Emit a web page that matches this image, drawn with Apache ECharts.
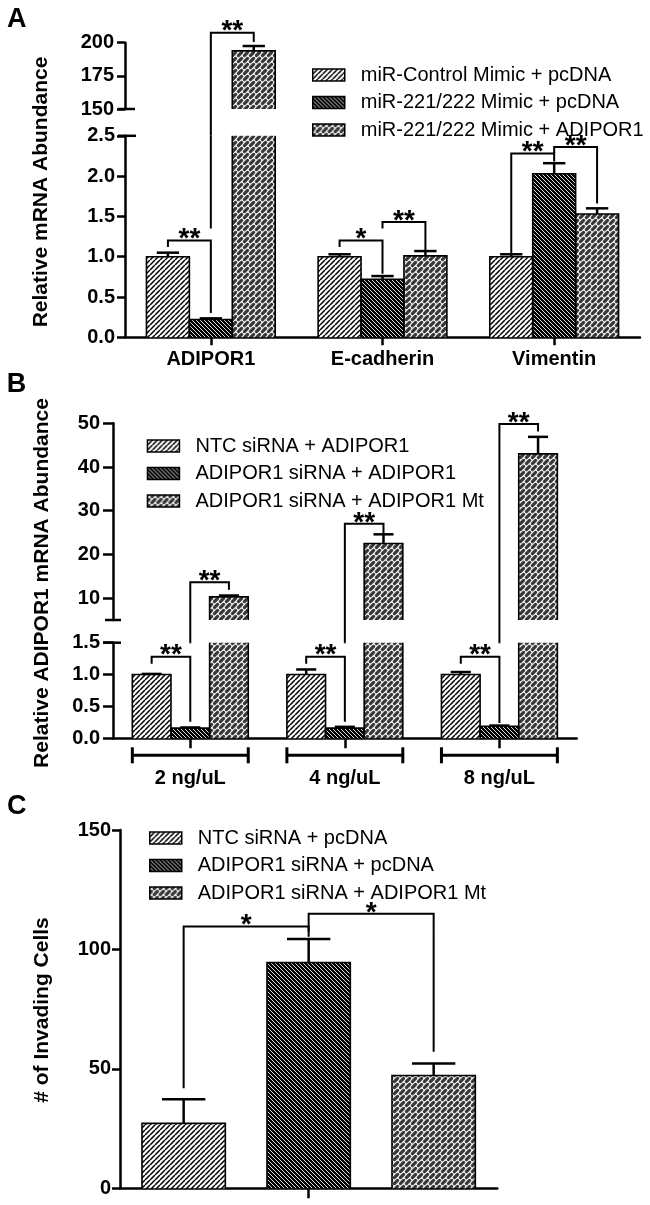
<!DOCTYPE html>
<html><head><meta charset="utf-8">
<script src="https://cdn.jsdelivr.net/npm/echarts@6/dist/echarts.min.js"></script>
<style>html,body{margin:0;padding:0;background:#fff}#c{width:650px;height:1205px}</style>
</head><body><div id="c"></div>
<script>
// ================= DATA =================
// Panel A
const catsA = ['ADIPOR1', 'E-cadherin', 'Vimentin'];
const namesA = ['miR-Control Mimic + pcDNA', 'miR-221/222 Mimic + pcDNA', 'miR-221/222 Mimic + ADIPOR1'];
const meanA0 = [1.00, 1.00, 1.00];
const meanA1 = [0.22, 0.72, 2.03];
const meanA2 = [193.8, 1.01, 1.53];
const errA0 = [0.05, 0.03, 0.03];
const errA1 = [0.015, 0.04, 0.13];
const errA2 = [3.7, 0.06, 0.07];
const ticksAtop = [150, 175, 200];
const ticksAbot = [0, 0.5, 1.0, 1.5, 2.0, 2.5];
// significance brackets: [category, barA, barB, level, legA end, legB end]
const sigA = [
  [0, 0, 1, 1.20, 1.12, 0.30],
  [0, 1, 2, 207.5, 1.35, 200.5],
  [1, 0, 1, 1.20, 1.12, 0.79],
  [1, 1, 2, 1.43, 1.35, 1.08],
  [2, 0, 1, 2.28, 1.04, 2.18],
  [2, 1, 2, 2.36, 2.28, 1.66]
];
const starsA = ['**', '**', '*', '**', '**', '**'];

// Panel B
const catsB = ['2 ng/uL', '4 ng/uL', '8 ng/uL'];
const namesB = ['NTC siRNA + ADIPOR1', 'ADIPOR1 siRNA + ADIPOR1', 'ADIPOR1 siRNA + ADIPOR1 Mt'];
const meanB0 = [1.00, 1.00, 1.00];
const meanB1 = [0.16, 0.16, 0.19];
const meanB2 = [10.3, 22.5, 43.0];
const errB0 = [0.01, 0.08, 0.04];
const errB1 = [0.01, 0.02, 0.01];
const errB2 = [0.3, 2.1, 3.9];
const ticksBtop = [10, 20, 30, 40, 50];
const ticksBbot = [0, 0.5, 1.0, 1.5];
const sigB = [
  [0, 0, 1, 1.28, 1.17, 0.26],
  [0, 1, 2, 13.65, 1.49, 11.9],
  [1, 0, 1, 1.28, 1.17, 0.26],
  [1, 1, 2, 27.0, 1.49, 24.85],
  [2, 0, 1, 1.28, 1.17, 0.24],
  [2, 1, 2, 49.84, 1.49, 48.1]
];
const starsB = ['**', '**', '**', '**', '**', '**'];

// Panel C
const catsC = [''];
const namesC = ['NTC siRNA + pcDNA', 'ADIPOR1 siRNA + pcDNA', 'ADIPOR1 siRNA + ADIPOR1 Mt'];
const meanC0 = [27.2];
const meanC1 = [94.5];
const meanC2 = [47.2];
const errC0 = [10.1];
const errC1 = [9.9];
const errC2 = [5.0];
const ticksC = [0, 50, 100, 150];
const sigC = [
  [0, 0, 1, 109.6, 41.9, 105.3],
  [0, 1, 2, 114.9, 107.5, 57.2]
];
const starsC = ['*', '*'];

// ================= STYLE / LAYOUT =================
const FONT = '"Liberation Sans", Arial, Helvetica, sans-serif';
const STAR_FONT = 'bold 28px ' + FONT;

function tile(size, draw) {
  const c = document.createElement('canvas');
  c.width = size; c.height = size;
  const g = c.getContext('2d');
  draw(g, size);
  return { image: c, repeat: 'repeat' };
}
const pat1 = tile(5, (g, s) => {
  g.fillStyle = '#fff'; g.fillRect(0, 0, s, s);
  g.strokeStyle = '#000'; g.lineWidth = 1.5; g.beginPath();
  for (let k = -1; k <= 1; k++) { g.moveTo(k * s, s); g.lineTo(k * s + s, 0); }
  g.stroke();
});
const pat2 = tile(4, (g, s) => {
  g.fillStyle = '#000'; g.fillRect(0, 0, s, s);
  g.strokeStyle = '#fff'; g.lineWidth = 0.85; g.beginPath();
  for (let k = -1; k <= 1; k++) { g.moveTo(k * s, 0); g.lineTo(k * s + s, s); }
  g.stroke();
});
const pat3 = tile(6, (g, s) => {
  g.fillStyle = '#f4f4f4'; g.fillRect(0, 0, s, s);
  g.strokeStyle = '#383838'; g.lineWidth = 3.2; g.lineCap = 'round';
  const h = 1.55;
  [[0, 0], [s, 0], [0, s], [s, s]].forEach(([cx, cy]) => {
    g.beginPath(); g.moveTo(cx - h, cy + h); g.lineTo(cx + h, cy - h); g.stroke();
  });
});
const PATS = [pat1, pat2, pat3];

const cfgA = { cg: 0.25, bg: 0 };
const cfgB = { cg: 0.25, bg: 0 };
const cfgC = { cg: 0.1165, bg: 0.5 };

const G = {
  At: { left: 125, top: 42.7, width: 515, height: 66.3 },
  Ab: { left: 125, top: 135.8, width: 515, height: 201.5 },
  Bt: { left: 113, top: 423.3, width: 463.7, height: 196.7 },
  Bb: { left: 113, top: 642.7, width: 463.7, height: 95.6 },
  C:  { left: 120, top: 830, width: 377.3, height: 358.3 }
};

function barPos(api, cat, s, cfg) {
  const band = api.size([1, 0])[0];
  const bw = band * (1 - cfg.cg) / (3 + 2 * cfg.bg);
  const group = 3 * bw + 2 * bw * cfg.bg;
  const c = api.coord([cat, 0])[0];
  return { x: c - group / 2 + s * bw * (1 + cfg.bg) + bw / 2, bw: bw };
}

function valAxis(gi, min, max, ticks, fmt, tickLen, margin, interval) {
  return {
    type: 'value', gridIndex: gi, min: min, max: max, interval: interval,
    axisLine: { show: true, lineStyle: { color: '#000', width: 2.5 } },
    axisTick: { show: true, length: tickLen, customValues: ticks, lineStyle: { color: '#000', width: 2.5 } },
    axisLabel: { show: true, customValues: ticks, formatter: fmt, color: '#000', fontSize: 20,
      fontWeight: 'bold', fontFamily: FONT, margin: margin },
    splitLine: { show: false }
  };
}
function catAxis(gi, data, show, tickLen, margin) {
  return {
    type: 'category', gridIndex: gi, data: data, show: show,
    axisLine: { show: true, onZero: false, lineStyle: { color: '#000', width: 2.5 } },
    axisTick: { show: true, alignWithLabel: true, length: tickLen, lineStyle: { color: '#000', width: 2.5 } },
    axisLabel: { show: true, interval: 0, color: '#000', fontSize: 20, fontWeight: 'bold', fontFamily: FONT, margin: margin }
  };
}

function barSeries(gi, names, means, cfg, filt) {
  return means.map((m, s) => ({
    type: 'bar', name: names[s], xAxisIndex: gi, yAxisIndex: gi,
    data: m.map(v => (filt(v) ? v : '-')),
    barGap: (cfg.bg * 100) + '%', barCategoryGap: (cfg.cg * 100) + '%',
    clip: true, silent: true,
    itemStyle: { color: PATS[s], borderWidth: 0 }
  }));
}

// bar outlines (edges cut by an axis break are left open)
function outlineSeries(gi, means, cfg, lo, hi, filt) {
  const rows = [];
  means.forEach((m, s) => m.forEach((v, c) => { if (filt(v)) rows.push([c, s, v]); }));
  return {
    type: 'custom', xAxisIndex: gi, yAxisIndex: gi, data: rows, silent: true, z: 4, clip: false,
    encode: { x: 0, y: 2 },
    renderItem: function (params, api) {
      const cat = api.value(0), v = api.value(2);
      const p = barPos(api, cat, api.value(1), cfg);
      const xl = p.x - p.bw / 2, xr = p.x + p.bw / 2;
      const yt = api.coord([cat, Math.min(v, hi)])[1];
      const yb = api.coord([cat, lo])[1];
      const st = { stroke: '#000', lineWidth: 1.6, fill: 'none' };
      if (v <= hi) {
        return { type: 'polyline', shape: { points: [[xl, yb], [xl, yt], [xr, yt], [xr, yb]] }, style: st };
      }
      return { type: 'group', children: [
        { type: 'line', shape: { x1: xl, y1: yb, x2: xl, y2: yt }, style: st },
        { type: 'line', shape: { x1: xr, y1: yb, x2: xr, y2: yt }, style: st }
      ] };
    }
  };
}

function errSeries(gi, means, errs, cfg, filt) {
  const rows = [];
  means.forEach((m, s) => m.forEach((v, c) => { if (filt(v)) rows.push([c, s, v, v + errs[s][c]]); }));
  return {
    type: 'custom', xAxisIndex: gi, yAxisIndex: gi, data: rows, silent: true, z: 5, clip: false,
    encode: { x: 0, y: 2 },
    renderItem: function (params, api) {
      const cat = api.value(0), s = api.value(1);
      const p = barPos(api, cat, s, cfg);
      const y1 = api.coord([cat, api.value(2)])[1];
      const y2 = api.coord([cat, api.value(3)])[1];
      const h = p.bw * 0.26;
      const st = { stroke: '#000', lineWidth: 2.5 };
      return { type: 'group', children: [
        { type: 'line', shape: { x1: p.x, y1: y1, x2: p.x, y2: y2 }, style: st },
        { type: 'line', shape: { x1: p.x - h, y1: y2, x2: p.x + h, y2: y2 }, style: st }
      ] };
    }
  };
}

function sigSeries(gi, sig, stars, cfg, segMin, gapBelow, filt) {
  const rows = [];
  sig.forEach((r, i) => { if (filt(r[3])) rows.push(r.concat([i])); });
  return {
    type: 'custom', xAxisIndex: gi, yAxisIndex: gi, data: rows, silent: true, z: 6, clip: false,
    encode: { x: 0, y: 3 },
    renderItem: function (params, api) {
      const cat = api.value(0);
      const xa = barPos(api, cat, api.value(1), cfg).x;
      const xb = barPos(api, cat, api.value(2), cfg).x;
      const yl = api.coord([cat, api.value(3)])[1];
      const yEnd = v => (v < segMin ? api.coord([cat, segMin])[1] + gapBelow : api.coord([cat, v])[1]);
      return { type: 'group', children: [
        { type: 'polyline', shape: { points: [[xa, yEnd(api.value(4))], [xa, yl], [xb, yl], [xb, yEnd(api.value(5))]] },
          style: { stroke: '#000', lineWidth: 2, fill: 'none' } },
        { type: 'text', x: (xa + xb) / 2, y: yl - 1,
          style: { text: stars[api.value(6)], font: STAR_FONT, fill: '#000',
            align: 'center', verticalAlign: 'middle', textAlign: 'center', textVerticalAlign: 'middle' } }
      ] };
    }
  };
}

// continuation of legs that cross an axis break, drawn in the lower segment
function contSeries(gi, sig, cfg, topMin, botMax) {
  const rows = [];
  sig.forEach(r => {
    if (r[3] > botMax) {
      if (r[4] < topMin) rows.push([r[0], r[1], r[4]]);
      if (r[5] < topMin) rows.push([r[0], r[2], r[5]]);
    }
  });
  return {
    type: 'custom', xAxisIndex: gi, yAxisIndex: gi, data: rows, silent: true, z: 6, clip: false,
    encode: { x: 0, y: 2 },
    renderItem: function (params, api) {
      const cat = api.value(0);
      const x = barPos(api, cat, api.value(1), cfg).x;
      const y1 = api.coord([cat, botMax])[1];
      const y2 = api.coord([cat, api.value(2)])[1];
      return { type: 'line', shape: { x1: x, y1: y1, x2: x, y2: y2 }, style: { stroke: '#000', lineWidth: 2 } };
    }
  };
}

function rangeSeries(gi, cats, cfg) {
  return {
    type: 'custom', xAxisIndex: gi, yAxisIndex: gi, data: cats.map((c, i) => [i, 0]), silent: true, z: 6, clip: false,
    encode: { x: 0, y: 1 },
    renderItem: function (params, api) {
      const cat = api.value(0);
      const p0 = barPos(api, cat, 0, cfg), p2 = barPos(api, cat, 2, cfg);
      const xl = p0.x - p0.bw / 2, xr = p2.x + p2.bw / 2;
      const y = api.coord([cat, 0])[1] + 17;
      const st = { stroke: '#000', lineWidth: 3 };
      return { type: 'group', children: [
        { type: 'line', shape: { x1: xl, y1: y, x2: xr, y2: y }, style: st },
        { type: 'line', shape: { x1: xl, y1: y - 8, x2: xl, y2: y + 8 }, style: st },
        { type: 'line', shape: { x1: xr, y1: y - 8, x2: xr, y2: y + 8 }, style: st }
      ] };
    }
  };
}

function legend(names, left, top) {
  return {
    data: names, left: left, top: top, orient: 'vertical', icon: 'rect',
    itemWidth: 32, itemHeight: 12, itemGap: 7.5, selectedMode: false,
    itemStyle: { borderColor: '#000', borderWidth: 1.5 },
    textStyle: { fontSize: 20, color: '#000', fontFamily: FONT, padding: [0, 0, 0, 11] }
  };
}

function txt(text, x, y, font, rot) {
  return { type: 'text', x: x, y: y, rotation: rot || 0,
    style: { text: text, font: font, fill: '#000', align: rot ? 'center' : 'left', verticalAlign: 'middle',
      textAlign: rot ? 'center' : 'left', textVerticalAlign: 'middle' } };
}
function hline(x1, x2, y) {
  return { type: 'line', shape: { x1: x1, y1: y, x2: x2, y2: y }, style: { stroke: '#000', lineWidth: 2.5 } };
}

const meansA = [meanA0, meanA1, meanA2], errsA = [errA0, errA1, errA2];
const meansB = [meanB0, meanB1, meanB2], errsB = [errB0, errB1, errB2];
const meansC = [meanC0, meanC1, meanC2], errsC = [errC0, errC1, errC2];

const AtMin = ticksAtop[0], AtMax = ticksAtop[ticksAtop.length - 1];
const AbMax = ticksAbot[ticksAbot.length - 1];
const BtMin = 5, BtMax = ticksBtop[ticksBtop.length - 1];
const BbMax = ticksBbot[ticksBbot.length - 1];
const CMax = ticksC[ticksC.length - 1];
const gapA = G.Ab.top - (G.At.top + G.At.height);
const gapB = G.Bb.top - (G.Bt.top + G.Bt.height);

const option = {
  animation: false,
  backgroundColor: '#fff',
  grid: [G.At, G.Ab, G.Bt, G.Bb, G.C],
  xAxis: [
    catAxis(0, catsA, false, 8, 12),
    catAxis(1, catsA, true, 8, 12),
    catAxis(2, catsB, false, 10, 30),
    catAxis(3, catsB, true, 10, 30),
    catAxis(4, catsC, true, 10, 12)
  ],
  yAxis: [
    valAxis(0, AtMin, AtMax, ticksAtop, v => String(v), 8, 11, 25),
    valAxis(1, 0, AbMax, ticksAbot, v => v.toFixed(1), 8, 10, 0.5),
    valAxis(2, BtMin, BtMax, ticksBtop, v => String(v), 10, 13, 5),
    valAxis(3, 0, BbMax, ticksBbot, v => v.toFixed(1), 10, 13, 0.5),
    valAxis(4, 0, CMax, ticksC, v => String(v), 8, 9, 50)
  ],
  legend: [legend(namesA, 307, 60), legend(namesB, 141.7, 431), legend(namesC, 144, 823)],
  series: [].concat(
    barSeries(0, namesA, meansA, cfgA, v => v >= AtMin),
    barSeries(1, namesA, meansA, cfgA, v => true),
    barSeries(2, namesB, meansB, cfgB, v => v >= BtMin),
    barSeries(3, namesB, meansB, cfgB, v => true),
    barSeries(4, namesC, meansC, cfgC, v => true),
    [
      outlineSeries(0, meansA, cfgA, AtMin, AtMax, v => v >= AtMin),
      outlineSeries(1, meansA, cfgA, 0, AbMax, v => true),
      outlineSeries(2, meansB, cfgB, BtMin, BtMax, v => v >= BtMin),
      outlineSeries(3, meansB, cfgB, 0, BbMax, v => true),
      outlineSeries(4, meansC, cfgC, 0, CMax, v => true),
      errSeries(0, meansA, errsA, cfgA, v => v >= AtMin),
      errSeries(1, meansA, errsA, cfgA, v => v <= AbMax),
      errSeries(2, meansB, errsB, cfgB, v => v >= BtMin),
      errSeries(3, meansB, errsB, cfgB, v => v <= BbMax),
      errSeries(4, meansC, errsC, cfgC, v => true),
      sigSeries(0, sigA, starsA, cfgA, AtMin, gapA, l => l > AbMax),
      sigSeries(1, sigA, starsA, cfgA, -1, 0, l => l <= AbMax),
      contSeries(1, sigA, cfgA, AtMin, AbMax),
      sigSeries(2, sigB, starsB, cfgB, BtMin, gapB, l => l > BbMax),
      sigSeries(3, sigB, starsB, cfgB, -1, 0, l => l <= BbMax),
      contSeries(3, sigB, cfgB, BtMin, BbMax),
      rangeSeries(3, catsB, cfgB),
      sigSeries(4, sigC, starsC, cfgC, -1, 0, l => true)
    ]
  ),
  graphic: [
    txt('A', 7, 19.7, 'bold 27px ' + FONT),
    txt('B', 6.7, 384.2, 'bold 27px ' + FONT),
    txt('C', 7, 806.7, 'bold 27px ' + FONT),
    txt('Relative mRNA Abundance', 41, 192, 'bold 21px ' + FONT, Math.PI / 2),
    txt('Relative ADIPOR1 mRNA Abundance', 42, 583, 'bold 21px ' + FONT, Math.PI / 2),
    txt('# of Invading Cells', 42, 1010, 'bold 21px ' + FONT, Math.PI / 2),
    hline(118, 135, G.At.top + G.At.height),
    hline(118, 136, G.Ab.top),
    hline(105, 121, G.Bt.top + G.Bt.height),
    hline(103, 121, G.Bb.top)
  ]
};

const chart = echarts.init(document.getElementById('c'), null, { renderer: 'canvas' });
chart.setOption(option);
</script>
</body></html>
